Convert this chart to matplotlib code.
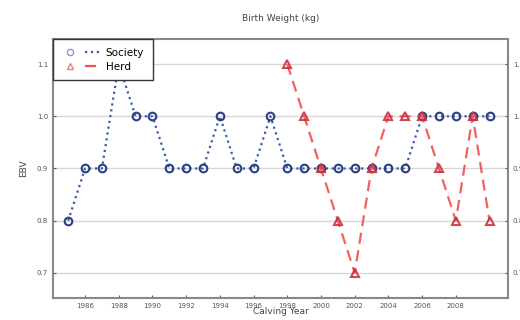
import matplotlib
matplotlib.use("Agg")
import matplotlib.pyplot as plt
from matplotlib.lines import Line2D
from matplotlib.legend_handler import HandlerTuple

# Calving years and EBV values
society_years = list(range(1985, 2011))
society_ebv = [0.8, 0.9, 0.9, 1.1, 1.0, 1.0, 0.9, 0.9, 0.9, 1.0, 0.9, 0.9, 1.0,
               0.9, 0.9, 0.9, 0.9, 0.9, 0.9, 0.9, 0.9, 1.0, 1.0, 1.0, 1.0, 1.0]

herd_years = list(range(1998, 2011))
herd_ebv = [1.1, 1.0, 0.9, 0.8, 0.7, 0.9, 1.0, 1.0, 1.0, 0.9, 0.8, 1.0, 0.8]

x_ticks = list(range(1986, 2009, 2))
y_ticks = [0.7, 0.8, 0.9, 1.0, 1.1]

blue_line, blue_edge = '#3a5bb8', '#2c3f80'
red_line, red_edge = '#f05050', '#d03040'

fig = plt.figure(figsize=(5.2, 3.2), dpi=100)
ax = fig.add_axes([0.102, 0.069, 0.875, 0.809])

ax.plot(society_years, society_ebv, linestyle=':', color=blue_line, linewidth=1.6,
        marker='o', markersize=5.5, markerfacecolor='none', markeredgecolor=blue_edge,
        markeredgewidth=1.5)
ax.plot(herd_years, herd_ebv, linestyle=(0, (5, 3)), color=red_line, linewidth=1.6,
        marker='^', markersize=5.5, markerfacecolor='none', markeredgecolor=red_edge,
        markeredgewidth=1.5, alpha=0.9)

ax.set_xlim(1984.1, 2011.1)
ax.set_ylim(0.652, 1.148)
ax.set_xticks(x_ticks)
ax.set_yticks(y_ticks)
ax.yaxis.grid(True, color='#d8d8d8', linewidth=1.0)
ax.set_axisbelow(True)

ax.tick_params(axis='both', labelsize=5, colors='#555555', direction='in', length=2,
               labelright=True, right=True)
for sp in ax.spines.values():
    sp.set_color('#888888')
    sp.set_linewidth(1.5)

ax.set_title("Birth Weight (kg)", fontsize=6.5, color='#444444', pad=13)
ax.set_xlabel("Calving Year", fontsize=6.5, color='#444444', labelpad=-1)
ax.set_ylabel("EBV", fontsize=6.5, color='#444444', labelpad=6)

# legend: marker first, then a short line segment
soc_mark = Line2D([], [], linestyle='none', marker='o', markersize=4.5,
                  markerfacecolor='none', markeredgecolor='#8899cc', markeredgewidth=1)
soc_line = Line2D([], [], linestyle=':', color=blue_line, linewidth=1.6)
herd_mark = Line2D([], [], linestyle='none', marker='^', markersize=4.5,
                   markerfacecolor='none', markeredgecolor='#f08080', markeredgewidth=1)
herd_line = Line2D([], [], linestyle=(0, (5, 3)), color=red_line, linewidth=1.6)
leg = ax.legend([(soc_mark, soc_line), (herd_mark, herd_line)], ['Society', 'Herd'],
                handler_map={tuple: HandlerTuple(ndivide=None, pad=0.6)},
                loc='upper left', fontsize=7.5, fancybox=False, framealpha=1,
                edgecolor='#333333', borderaxespad=0, handlelength=3.8,
                labelspacing=0.35, borderpad=0.85, handletextpad=0.4)
leg.get_frame().set_linewidth(1.0)

fig.savefig("out.png", dpi=100)
